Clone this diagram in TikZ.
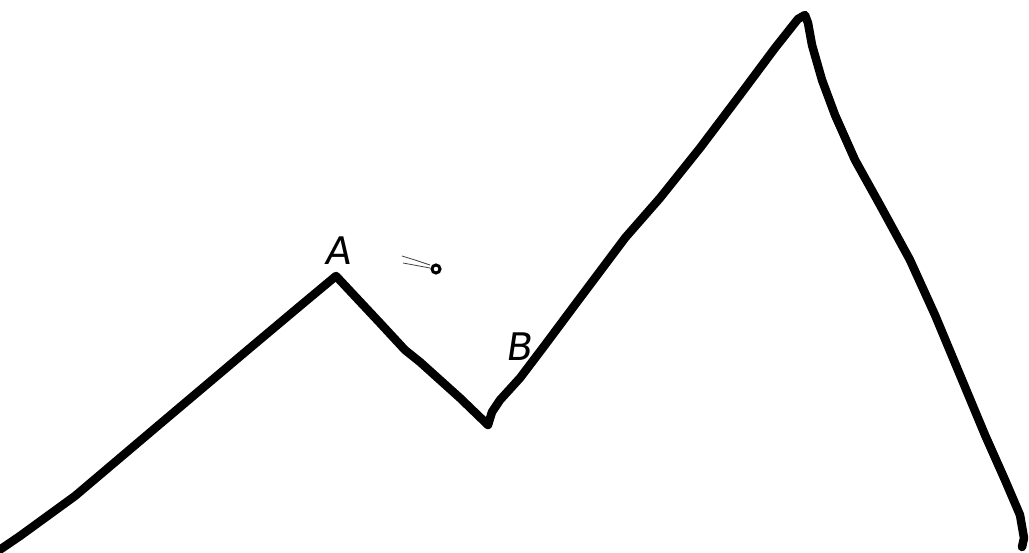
\documentclass[tikz,border=0pt]{standalone}
\usepackage{fontspec}
\setmainfont{DejaVu Sans}
\begin{document}
\begin{tikzpicture}[x=1pt,y=-1pt,
  ridge/.style={line width=8.5pt,line cap=round,line join=round},
  motion/.style={line width=0.8pt,gray!50!black},
  lbl/.style={font=\fontsize{38}{38}\selectfont\addfontfeature{FakeSlant=0.15}\mdseries,inner sep=0pt}]
\useasboundingbox (0,0) rectangle (1029,553);
\draw[ridge] (-2,551) -- (20,536) -- (75,496) -- (160,424) -- (250,348) -- (300,306) -- (336,276)
  -- (350,291) -- (380,323) -- (405,350) -- (420,362) -- (460,398) -- (488,425)
  -- (492,412) -- (500,400) -- (520,378) -- (545,345) -- (580,298) -- (625,238) -- (660,198)
  -- (700,148) -- (740,95) -- (775,48) -- (798,19) -- (805,15) -- (808,23) -- (812,45)
  -- (822,80) -- (835,115) -- (855,160) -- (880,205) -- (910,260) -- (935,315) -- (960,375)
  -- (985,435) -- (1005,480) -- (1020,515) -- (1024,538) -- (1022,547);
\node[lbl] (A) at (337,251) {A};
\node[lbl] (B) at (519,347) {B};
\node[circle,draw,line width=3pt,minimum size=8pt,inner sep=0pt] (ball) at (436,269) {};
\draw[motion] (402,256) -- (415,260) -- (430,265);
\draw[motion] (403,263) -- (430,268);
\end{tikzpicture}
\end{document}
